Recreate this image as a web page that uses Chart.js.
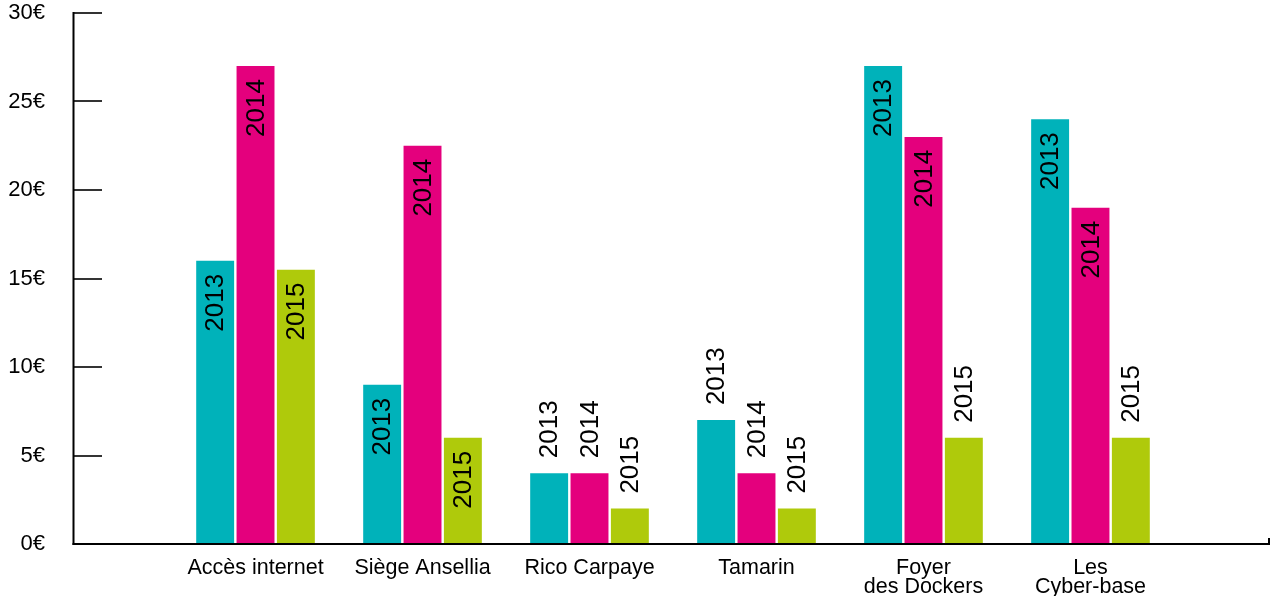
<!DOCTYPE html>
<html>
<head>
<meta charset="utf-8">
<script src="https://cdn.jsdelivr.net/npm/chart.js@4"></script>
<style>
  html, body { margin: 0; padding: 0; background: #ffffff; }
  #wrap { width: 1277px; height: 596px; position: relative; }
</style>
</head>
<body>
<div id="wrap"><canvas id="c"></canvas></div>
<script>
// ---- data ----
const categories = ['Accès internet', 'Siège Ansellia', 'Rico Carpaye', 'Tamarin', ['Foyer', 'des Dockers'], ['Les', 'Cyber-base']];
const seriesNames = ['2013', '2014', '2015'];
const values2013 = [16, 9, 4, 7, 27, 24];
const values2014 = [27, 22.5, 4, 4, 23, 19];
const values2015 = [15.5, 6, 2, 2, 6, 6];
const yTickValues = [0, 5, 10, 15, 20, 25, 30];
// where each year label sits: true = inside the bar, false = above it
const inside2013 = [true, true, false, false, true, true];
const inside2014 = [true, true, false, false, true, true];
const inside2015 = [true, true, false, false, false, false];

// ---- styles ----
const colors = ['#00b2ba', '#e4007d', '#afca0b'];
const FONT = '"Liberation Sans", Arial, Helvetica, sans-serif';

const seriesValues = [values2013, values2014, values2015];
const insideFlags = [inside2013, inside2014, inside2015];

const datasets = seriesNames.map((name, s) => ({
  label: name,
  data: seriesValues[s].map((v, i) => ({ x: i, y: v })),
  backgroundColor: colors[s],
  borderWidth: 0,
  categoryPercentage: 0.725,
  barPercentage: 0.94
}));

const axesPlugin = {
  id: 'customAxes',
  afterDatasetsDraw(chart) {
    const ctx = chart.ctx;
    const area = chart.chartArea;
    const ys = chart.scales.y;
    const y0 = ys.getPixelForValue(0);
    ctx.save();
    ctx.strokeStyle = '#000';
    ctx.lineCap = 'butt';
    // y ticks (inward)
    ctx.lineWidth = 1.6;
    yTickValues.forEach(v => {
      const py = Math.round(ys.getPixelForValue(v));
      ctx.beginPath();
      ctx.moveTo(area.left - 1, py);
      ctx.lineTo(area.left + 28, py);
      ctx.stroke();
    });
    // y axis
    ctx.lineWidth = 2;
    ctx.beginPath();
    ctx.moveTo(area.left - 0.5, ys.getPixelForValue(30) - 1);
    ctx.lineTo(area.left - 0.5, y0 + 1);
    ctx.stroke();
    // x axis
    ctx.beginPath();
    ctx.moveTo(area.left - 1.5, y0);
    ctx.lineTo(area.right, y0);
    ctx.stroke();
    // small end tick
    ctx.beginPath();
    ctx.moveTo(area.right - 1, y0 + 1);
    ctx.lineTo(area.right - 1, y0 - 6);
    ctx.stroke();

    // year labels
    ctx.fillStyle = '#000';
    ctx.font = '26px ' + FONT;
    ctx.textBaseline = 'middle';
    chart.data.datasets.forEach((ds, s) => {
      const meta = chart.getDatasetMeta(s);
      meta.data.forEach((bar, i) => {
        const inside = insideFlags[s][i];
        ctx.save();
        if (inside) {
          ctx.translate(bar.x + 1, bar.y + 13);
          ctx.rotate(-Math.PI / 2);
          ctx.textAlign = 'right';
        } else {
          ctx.translate(bar.x + 1, bar.y - 15);
          ctx.rotate(-Math.PI / 2);
          ctx.textAlign = 'left';
        }
        ctx.fillText(ds.label, 0, 0);
        ctx.restore();
      });
    });
    ctx.restore();
  }
};

new Chart(document.getElementById('c'), {
  type: 'bar',
  data: { datasets },
  options: {
    responsive: true,
    maintainAspectRatio: false,
    animation: false,
    layout: { padding: { top: 13, right: 7, bottom: 0, left: 0 } },
    plugins: { legend: { display: false }, tooltip: { enabled: false } },
    scales: {
      x: {
        type: 'linear',
        offset: false,
        min: -1.087,
        max: 6.075,
        grid: { display: false, drawTicks: false, offset: false },
        border: { display: false },
        afterBuildTicks: (scale) => { scale.ticks = categories.map((_, i) => ({ value: i })); },
        afterFit: (scale) => { scale.height = 52; scale.paddingLeft = 0; scale.paddingRight = 0; },
        ticks: {
          autoSkip: false,
          maxRotation: 0,
          minRotation: 0,
          padding: 14,
          color: '#000',
          font: { family: FONT, size: 21.5, lineHeight: 0.9 },
          callback: (v) => categories[v]
        }
      },
      y: {
        min: 0,
        max: 30,
        grid: { display: false, drawTicks: false },
        border: { display: false },
        afterFit: (scale) => { scale.width = 74; scale.paddingTop = 0; scale.paddingBottom = 0; },
        ticks: {
          stepSize: 5,
          padding: 29,
          color: '#000',
          font: { family: FONT, size: 22 },
          callback: (v) => v + '€'
        }
      }
    }
  },
  plugins: [axesPlugin]
});
</script>
</body>
</html>
